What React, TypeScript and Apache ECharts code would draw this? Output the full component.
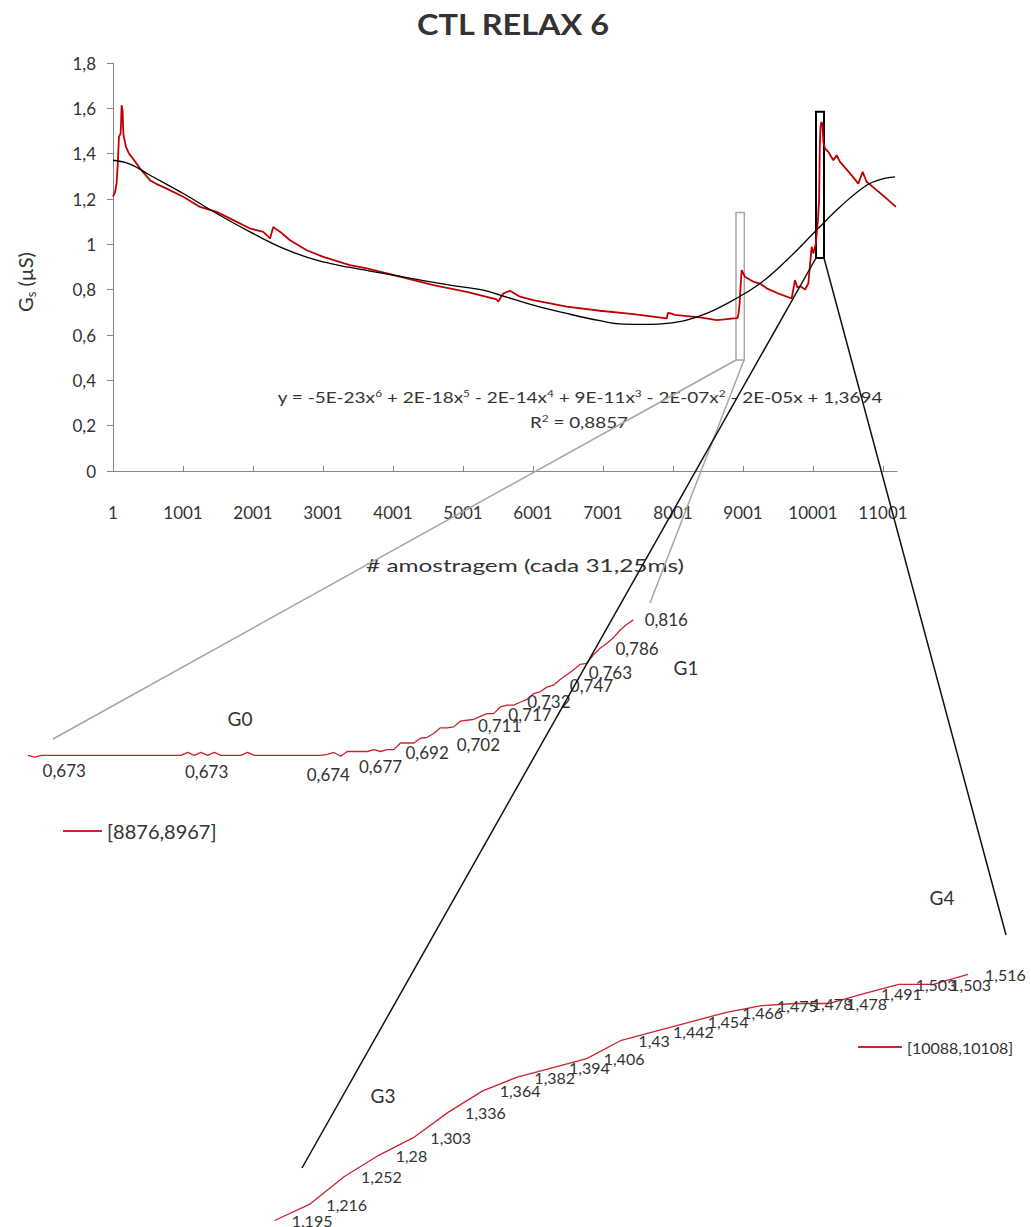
import { useEffect, useRef } from 'react';
import * as echarts from 'echarts';

// ---------- data ----------
const TITLE = 'CTL RELAX 6';
const X_NAME = '# amostragem (cada 31,25ms)';
const X_TICKS = [1, 1001, 2001, 3001, 4001, 5001, 6001, 7001, 8001, 9001, 10001, 11001];

// main red series (sample #, Gs)
const MAIN_X = [1, 30, 53, 70, 86, 110, 118, 124, 132, 138, 145, 152, 186, 230, 267, 386, 529, 650, 767, 1005, 1244, 1482, 1720, 1958, 2148, 2244, 2291, 2339, 2386, 2530, 2768, 3005, 3386, 3625, 4101, 4577, 5054, 5482, 5505, 5530, 5577, 5672, 5815, 6005, 6482, 6958, 7434, 7911, 7930, 7968, 8025, 8387, 8625, 8876, 8921, 8936, 8951, 8967, 8982, 9029, 9148, 9244, 9339, 9530, 9696, 9744, 9777, 9820, 9887, 9934, 9982, 10005, 10040, 10070, 10088, 10098, 10108, 10120, 10135, 10150, 10172, 10220, 10291, 10339, 10386, 10530, 10649, 10710, 10767, 10910, 11053, 11186];
const MAIN_Y = [1.21, 1.23, 1.27, 1.36, 1.474, 1.49, 1.55, 1.614, 1.6, 1.59, 1.52, 1.48, 1.43, 1.4, 1.386, 1.335, 1.283, 1.262, 1.246, 1.21, 1.165, 1.143, 1.107, 1.07, 1.055, 1.026, 1.077, 1.065, 1.056, 1.018, 0.974, 0.945, 0.908, 0.894, 0.857, 0.82, 0.79, 0.757, 0.747, 0.761, 0.783, 0.795, 0.769, 0.754, 0.725, 0.707, 0.692, 0.673, 0.698, 0.695, 0.689, 0.678, 0.666, 0.673, 0.674, 0.692, 0.732, 0.816, 0.886, 0.857, 0.835, 0.827, 0.806, 0.78, 0.761, 0.842, 0.81, 0.815, 0.801, 0.827, 0.989, 0.96, 1.0, 1.1, 1.195, 1.43, 1.516, 1.54, 1.53, 1.45, 1.423, 1.408, 1.371, 1.393, 1.364, 1.313, 1.268, 1.32, 1.276, 1.239, 1.202, 1.165];

// polynomial trendline
const TREND_X = [1, 244, 530, 1005, 1482, 1958, 2434, 2911, 3387, 3863, 4339, 4815, 5291, 5530, 6005, 6482, 6958, 7291, 7672, 7911, 8196, 8482, 8862, 9244, 9625, 10053, 10386, 10767, 11005, 11172];
const TREND_Y = [1.371, 1.354, 1.305, 1.224, 1.136, 1.055, 0.982, 0.93, 0.898, 0.872, 0.845, 0.82, 0.798, 0.776, 0.732, 0.695, 0.663, 0.648, 0.647, 0.651, 0.666, 0.695, 0.754, 0.827, 0.93, 1.063, 1.165, 1.261, 1.29, 1.298];
const EQ_TERMS: [string, string][] = [['n', 'y = -5E-23x'], ['s', '6'], ['n', ' + 2E-18x'], ['s', '5'], ['n', ' - 2E-14x'], ['s', '4'], ['n', ' + 9E-11x'], ['s', '3'], ['n', ' - 2E-07x'], ['s', '2'], ['n', ' - 2E-05x + 1,3694']];
const R2_TERMS: [string, string][] = [['n', 'R'], ['s', '2'], ['n', ' = 0,8857']];

// zoom boxes drawn on the main chart
const BOX_G0 = { x0: 8901, x1: 9020, y0: 0.49, y1: 1.14 };
const BOX_G3 = { x0: 10044, x1: 10158, y0: 0.94, y1: 1.585 };

// inset G0: samples 8876..8967
const G0_NAME = '[8876,8967]';
const G0_START = 8876;
const G0_VALUES = [
  0.673, 0.671,
  0.673, 0.673, 0.673, 0.673, 0.673, 0.673, 0.673, 0.673, 0.673, 0.673, 0.673,
  0.673, 0.673, 0.673, 0.673, 0.673, 0.673, 0.673, 0.673, 0.673, 0.673, 0.673,
  0.676, 0.673, 0.676, 0.673, 0.676,
  0.673, 0.673, 0.673, 0.673,
  0.676,
  0.673, 0.673, 0.673, 0.673, 0.673, 0.673, 0.673, 0.673, 0.673, 0.673, 0.673,
  0.674, 0.676, 0.672, 0.677, 0.677, 0.677, 0.677, 0.679, 0.677, 0.679,
  0.679, 0.686, 0.686, 0.686, 0.691, 0.692, 0.696, 0.702, 0.702, 0.703,
  0.709, 0.71, 0.711, 0.714, 0.717, 0.717, 0.724, 0.726, 0.726, 0.729,
  0.732, 0.738, 0.74, 0.745, 0.747, 0.753, 0.758, 0.763, 0.769, 0.77,
  0.779, 0.786, 0.791, 0.797, 0.805, 0.811, 0.816,
];
const G0_LABELED = [8881, 8903, 8921, 8929, 8936, 8938, 8943, 8945, 8951, 8955, 8958, 8962, 8967];

// inset G3/G4: samples 10088..10108
const G3_NAME = '[10088,10108]';
const G3_START = 10088;
const G3_VALUES = [1.195, 1.216, 1.252, 1.28, 1.303, 1.336, 1.364, 1.382, 1.394, 1.406, 1.43, 1.442, 1.454, 1.466, 1.475, 1.478, 1.478, 1.491, 1.503, 1.503, 1.516];

const NOTES = ['G0', 'G1', 'G3', 'G4'];

// ---------- styling ----------
const FONT = 'Lato';
const TEXT = '#333333';
const AXIS = '#868686';
const RED = '#c00000';
const INSET_RED = '#cc2233';

const G0_LABEL_OFFSETS: Record<number, [number, number]> = {
  8881: [3, 15], 8903: [-1, 16], 8921: [1, 20], 8929: [0, 15], 8936: [0, 15], 8938: [38, 17],
  8943: [26, 6], 8945: [43, 1], 8951: [22, 2], 8955: [38, 0], 8958: [37, 2], 8962: [37, 0], 8967: [33, 0],
};
const NOTE_POS: [number, number][] = [[240, 718], [686, 667], [383, 1095], [942, 897]];
const CONNECTORS = [
  { x1: 736, y1: 360, x2: 53, y2: 739, c: '#a6a6a6', w: 1.5 },
  { x1: 744, y1: 360, x2: 650, y2: 603, c: '#a6a6a6', w: 1.5 },
  { x1: 816, y1: 258, x2: 302, y2: 1168, c: '#111111', w: 1.5 },
  { x1: 824, y1: 258, x2: 1006, y2: 935, c: '#111111', w: 1.5 },
];

function measure(parts: [string, number, string?][]): number {
  try {
    const ctx = document.createElement('canvas').getContext('2d');
    if (!ctx) return 0;
    let w = 0;
    for (const [t, size, weight] of parts) {
      ctx.font = `${weight || 'normal'} ${size}px ${FONT}`;
      w += ctx.measureText(t).width;
    }
    return w;
  } catch (e) {
    return 0;
  }
}

function fitScale(parts: [string, number, string?][], target: number) {
  const w = measure(parts);
  return w > 0 ? target / w : 1;
}

function plainText(text: string, x: number, y: number, size: number, target?: number, weight = 'normal') {
  return {
    type: 'text',
    x,
    y,
    z: 20,
    scaleX: target ? fitScale([[text, size, weight]], target) : 1,
    style: {
      text,
      fontSize: size,
      fontFamily: FONT,
      fontWeight: weight,
      fill: TEXT,
      align: 'center',
      verticalAlign: 'middle',
      textAlign: 'center',
      textVerticalAlign: 'middle',
    },
  };
}

function richSupText(terms: [string, string][], x: number, y: number, size: number, supSize: number, target: number) {
  const parts: [string, number][] = terms.map(([k, t]) => [t, k === 'n' ? size : supSize]);
  return {
    type: 'text',
    x,
    y,
    z: 20,
    scaleX: fitScale(parts, target),
    style: {
      text: terms.map(([k, t]) => `{${k}|${t}}`).join(''),
      fill: TEXT,
      align: 'center',
      verticalAlign: 'middle',
      textAlign: 'center',
      textVerticalAlign: 'middle',
      rich: {
        n: { fontSize: size, fontFamily: FONT, color: TEXT, lineHeight: 19 },
        s: { fontSize: supSize, fontFamily: FONT, color: TEXT, lineHeight: supSize, verticalAlign: 'top', textVerticalAlign: 'top' },
      },
    },
  };
}

function buildOption() {
  const mainData = MAIN_X.map((x, i) => [x, MAIN_Y[i]]);
  const trendData = TREND_X.map((x, i) => [x, TREND_Y[i]]);
  const labelStyle = { color: TEXT, fontFamily: FONT, fontSize: 16, textBorderWidth: 0 };
  const valueLabel = (p: any) => String(p.value[1]).replace('.', ',');

  const g0Data = G0_VALUES.map((v, i) => {
    const s = G0_START + i;
    if (G0_LABELED.indexOf(s) >= 0) {
      return {
        value: [s, v],
        label: { show: true, position: 'inside', offset: G0_LABEL_OFFSETS[s] || [0, 15], ...labelStyle, fontSize: 17, formatter: valueLabel },
      };
    }
    return { value: [s, v] };
  });
  const g3Data = G3_VALUES.map((v, i) => ({ value: [G3_START + i, v] }));

  const graphics: any[] = [];
  graphics.push(plainText(TITLE, 513, 24, 29, 193, 'bold'));
  graphics.push(plainText(X_NAME, 525, 565, 18, 318));
  graphics.push({
    type: 'text',
    x: 25,
    y: 282,
    rotation: Math.PI / 2,
    z: 20,
    style: {
      text: '{a|G}{b|s}{a| (µS)}',
      fill: TEXT,
      align: 'center',
      verticalAlign: 'middle',
      textAlign: 'center',
      textVerticalAlign: 'middle',
      rich: {
        a: { fontSize: 20, fontFamily: FONT, color: TEXT, lineHeight: 25 },
        b: { fontSize: 13, fontFamily: FONT, color: TEXT, lineHeight: 13, verticalAlign: 'bottom', textVerticalAlign: 'bottom' },
      },
    },
  });
  graphics.push(richSupText(EQ_TERMS, 580, 397, 16, 10, 605));
  graphics.push(richSupText(R2_TERMS, 579, 422, 16, 10, 98));
  NOTES.forEach((t, i) => graphics.push(plainText(t, NOTE_POS[i][0], NOTE_POS[i][1], 19)));
  CONNECTORS.forEach((c) =>
    graphics.push({
      type: 'line',
      z: 30,
      shape: { x1: c.x1, y1: c.y1, x2: c.x2, y2: c.y2 },
      style: { stroke: c.c, lineWidth: c.w },
      silent: true,
    })
  );

  const boxes = [
    { b: BOX_G0, color: '#a6a6a6', w: 1.5 },
    { b: BOX_G3, color: '#000000', w: 2 },
  ];

  return {
    animation: false,
    backgroundColor: '#ffffff',
    textStyle: { fontFamily: FONT },
    grid: [
      { left: 113, top: 63, width: 784, height: 408, containLabel: false, outerBoundsMode: 'none' },
      { left: 28, top: 606.6, width: 605.3, height: 161, containLabel: false, outerBoundsMode: 'none' },
      { left: 274.7, top: 963.6, width: 693.3, height: 268.4, containLabel: false, outerBoundsMode: 'none' },
    ],
    xAxis: [
      {
        type: 'value',
        gridIndex: 0,
        min: 1,
        max: 11201,
        axisLine: { show: true, lineStyle: { color: AXIS, width: 1 } },
        axisTick: { show: true, inside: true, length: 5, customValues: X_TICKS, lineStyle: { color: AXIS } },
        axisLabel: {
          customValues: X_TICKS,
          margin: 33,
          fontSize: 17,
          fontFamily: FONT,
          color: TEXT,
          formatter: (v: number) => String(v),
        },
        splitLine: { show: false },
      },
      { type: 'value', gridIndex: 1, min: 8876, max: 8967, show: false },
      { type: 'value', gridIndex: 2, min: 10088, max: 10108, show: false },
    ],
    yAxis: [
      {
        type: 'value',
        gridIndex: 0,
        min: 0,
        max: 1.8,
        interval: 0.2,
        axisLine: { show: true, lineStyle: { color: AXIS, width: 1 } },
        axisTick: { show: true, inside: false, length: 6, lineStyle: { color: AXIS } },
        axisLabel: {
          margin: 17,
          fontSize: 17,
          fontFamily: FONT,
          color: TEXT,
          formatter: (v: number) => String(Math.round(v * 10) / 10).replace('.', ','),
        },
        splitLine: { show: false },
      },
      { type: 'value', gridIndex: 1, min: 0.66, max: 0.83, show: false },
      { type: 'value', gridIndex: 2, min: 1.18, max: 1.53, show: false },
    ],
    legend: [
      {
        data: [G0_NAME],
        left: 63,
        top: 821,
        padding: 0,
        icon: 'rect',
        itemWidth: 39,
        itemHeight: 2,
        selectedMode: false,
        textStyle: { fontSize: 20, fontFamily: FONT, color: TEXT },
      },
      {
        data: [G3_NAME],
        left: 858,
        top: 1039,
        padding: 0,
        icon: 'rect',
        itemWidth: 44,
        itemHeight: 2,
        selectedMode: false,
        textStyle: { fontSize: 16, fontFamily: FONT, color: TEXT },
      },
    ],
    series: [
      {
        name: 'Gs',
        type: 'line',
        xAxisIndex: 0,
        yAxisIndex: 0,
        data: mainData,
        showSymbol: false,
        lineStyle: { color: RED, width: 1.8 },
        itemStyle: { color: RED },
        z: 3,
        markArea: {
          silent: true,
          label: { show: false },
          data: boxes.map((bx) => [
            {
              xAxis: bx.b.x0,
              yAxis: bx.b.y0,
              itemStyle: { color: 'rgba(0,0,0,0)', borderColor: bx.color, borderWidth: bx.w },
            },
            { xAxis: bx.b.x1, yAxis: bx.b.y1 },
          ]),
        },
      },
      {
        name: 'trend',
        type: 'line',
        xAxisIndex: 0,
        yAxisIndex: 0,
        data: trendData,
        showSymbol: false,
        smooth: 0.4,
        lineStyle: { color: '#000000', width: 1.3 },
        itemStyle: { color: '#000000' },
        z: 4,
      },
      {
        name: G0_NAME,
        type: 'line',
        xAxisIndex: 1,
        yAxisIndex: 1,
        data: g0Data,
        symbol: 'circle',
        symbolSize: 0,
        showSymbol: true,
        lineStyle: { color: INSET_RED, width: 1.3 },
        itemStyle: { color: INSET_RED },
        label: { show: false },
      },
      {
        name: G3_NAME,
        type: 'line',
        xAxisIndex: 2,
        yAxisIndex: 2,
        data: g3Data,
        symbol: 'circle',
        symbolSize: 0,
        showSymbol: true,
        lineStyle: { color: INSET_RED, width: 1.3 },
        itemStyle: { color: INSET_RED },
        label: { show: true, position: 'right', distance: 17, ...labelStyle, formatter: valueLabel },
      },
    ],
    graphic: { elements: graphics },
  };
}

export default function App() {
  const ref = useRef<HTMLDivElement>(null);
  useEffect(() => {
    if (!ref.current) return;
    const chart = echarts.init(ref.current, undefined, { renderer: 'svg' });
    chart.setOption(buildOption() as any);
    return () => chart.dispose();
  }, []);
  return <div ref={ref} style={{ position: 'absolute', left: 0, top: 0, width: 1031, height: 1227 }} />;
}
